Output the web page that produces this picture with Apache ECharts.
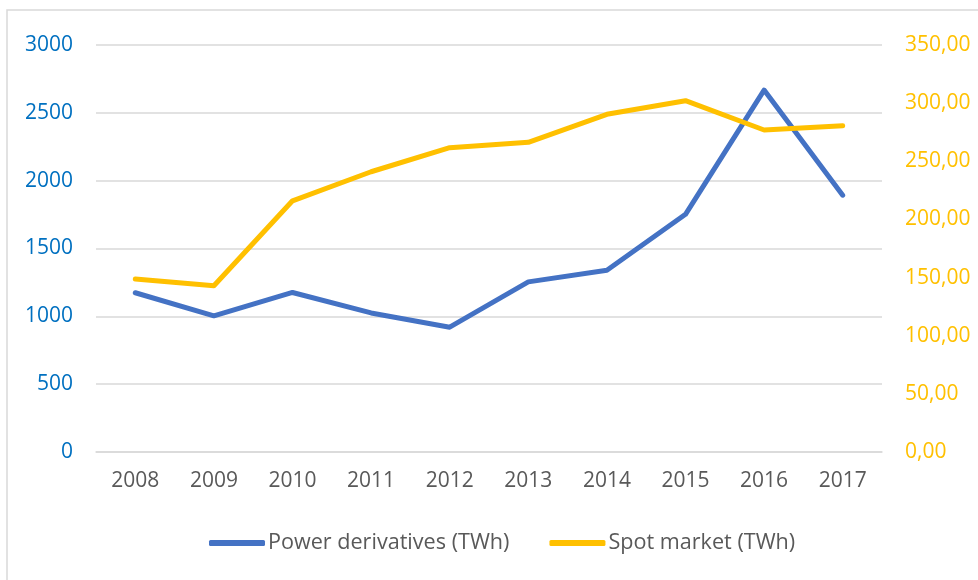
<!DOCTYPE html>
<html>
<head>
<meta charset="utf-8">
<script src="https://cdn.jsdelivr.net/npm/echarts@6/dist/echarts.min.js"></script>
<style>
  html, body { margin: 0; padding: 0; background: #fff; }
  #chart { width: 978px; height: 580px; }
</style>
</head>
<body>
<div id="chart"></div>
<script>
  // data
  const years = ['2008', '2009', '2010', '2011', '2012', '2013', '2014', '2015', '2016', '2017'];
  const derivatives = [1174, 1004, 1176, 1025, 920, 1254, 1340, 1752, 2668, 1893];
  const spot = [148.8, 143.0, 216.0, 241.0, 261.7, 266.3, 290.4, 302.1, 276.9, 280.6];
  const leftTicks = { min: 0, max: 3000, interval: 500 };
  const rightTicks = { min: 0, max: 350, interval: 50 };

  const font = '"Open Sans", "Liberation Sans", sans-serif';
  const chart = echarts.init(document.getElementById('chart'));

  chart.setOption({
    animation: false,
    graphic: [{
      type: 'rect',
      shape: { x: 7, y: 10, width: 1000, height: 600 },
      style: { fill: 'none', stroke: '#d9d9d9', lineWidth: 1.5 },
      silent: true
    }],
    grid: { left: 96, right: 96, top: 45, bottom: 128 },
    color: ['#4472C4', '#FFC000'],
    legend: {
      left: 204,
      top: 527,
      icon: 'roundRect',
      itemWidth: 56,
      itemHeight: 6,
      itemGap: 40,
      textStyle: { fontFamily: font, fontSize: 21.6, color: '#595959', padding: [0, 0, 0, -2] },
      data: ['Power derivatives (TWh)', 'Spot market (TWh)']
    },
    xAxis: {
      type: 'category',
      data: years,
      axisLine: { lineStyle: { color: '#d9d9d9', width: 1.5 } },
      axisTick: { show: false },
      axisLabel: { margin: 19, fontFamily: font, fontSize: 21, color: '#595959' }
    },
    yAxis: [{
      type: 'value',
      min: leftTicks.min,
      max: leftTicks.max,
      interval: leftTicks.interval,
      axisLine: { show: false },
      axisTick: { show: false },
      splitLine: { lineStyle: { color: '#d9d9d9', width: 1.5 } },
      axisLabel: {
        margin: 23, fontFamily: font, fontSize: 21, color: '#0070C0',
        formatter: v => String(v)
      }
    }, {
      type: 'value',
      min: rightTicks.min,
      max: rightTicks.max,
      interval: rightTicks.interval,
      axisLine: { show: false },
      axisTick: { show: false },
      splitLine: { show: false },
      axisLabel: {
        margin: 23, fontFamily: font, fontSize: 21, color: '#FFC000',
        formatter: v => v.toFixed(2).replace('.', ',')
      }
    }],
    series: [{
      name: 'Power derivatives (TWh)',
      type: 'line',
      yAxisIndex: 0,
      data: derivatives,
      symbol: 'none',
      lineStyle: { width: 5, cap: 'round', join: 'round' }
    }, {
      name: 'Spot market (TWh)',
      type: 'line',
      yAxisIndex: 1,
      data: spot,
      symbol: 'none',
      lineStyle: { width: 5, cap: 'round', join: 'round' }
    }]
  });
</script>
</body>
</html>
